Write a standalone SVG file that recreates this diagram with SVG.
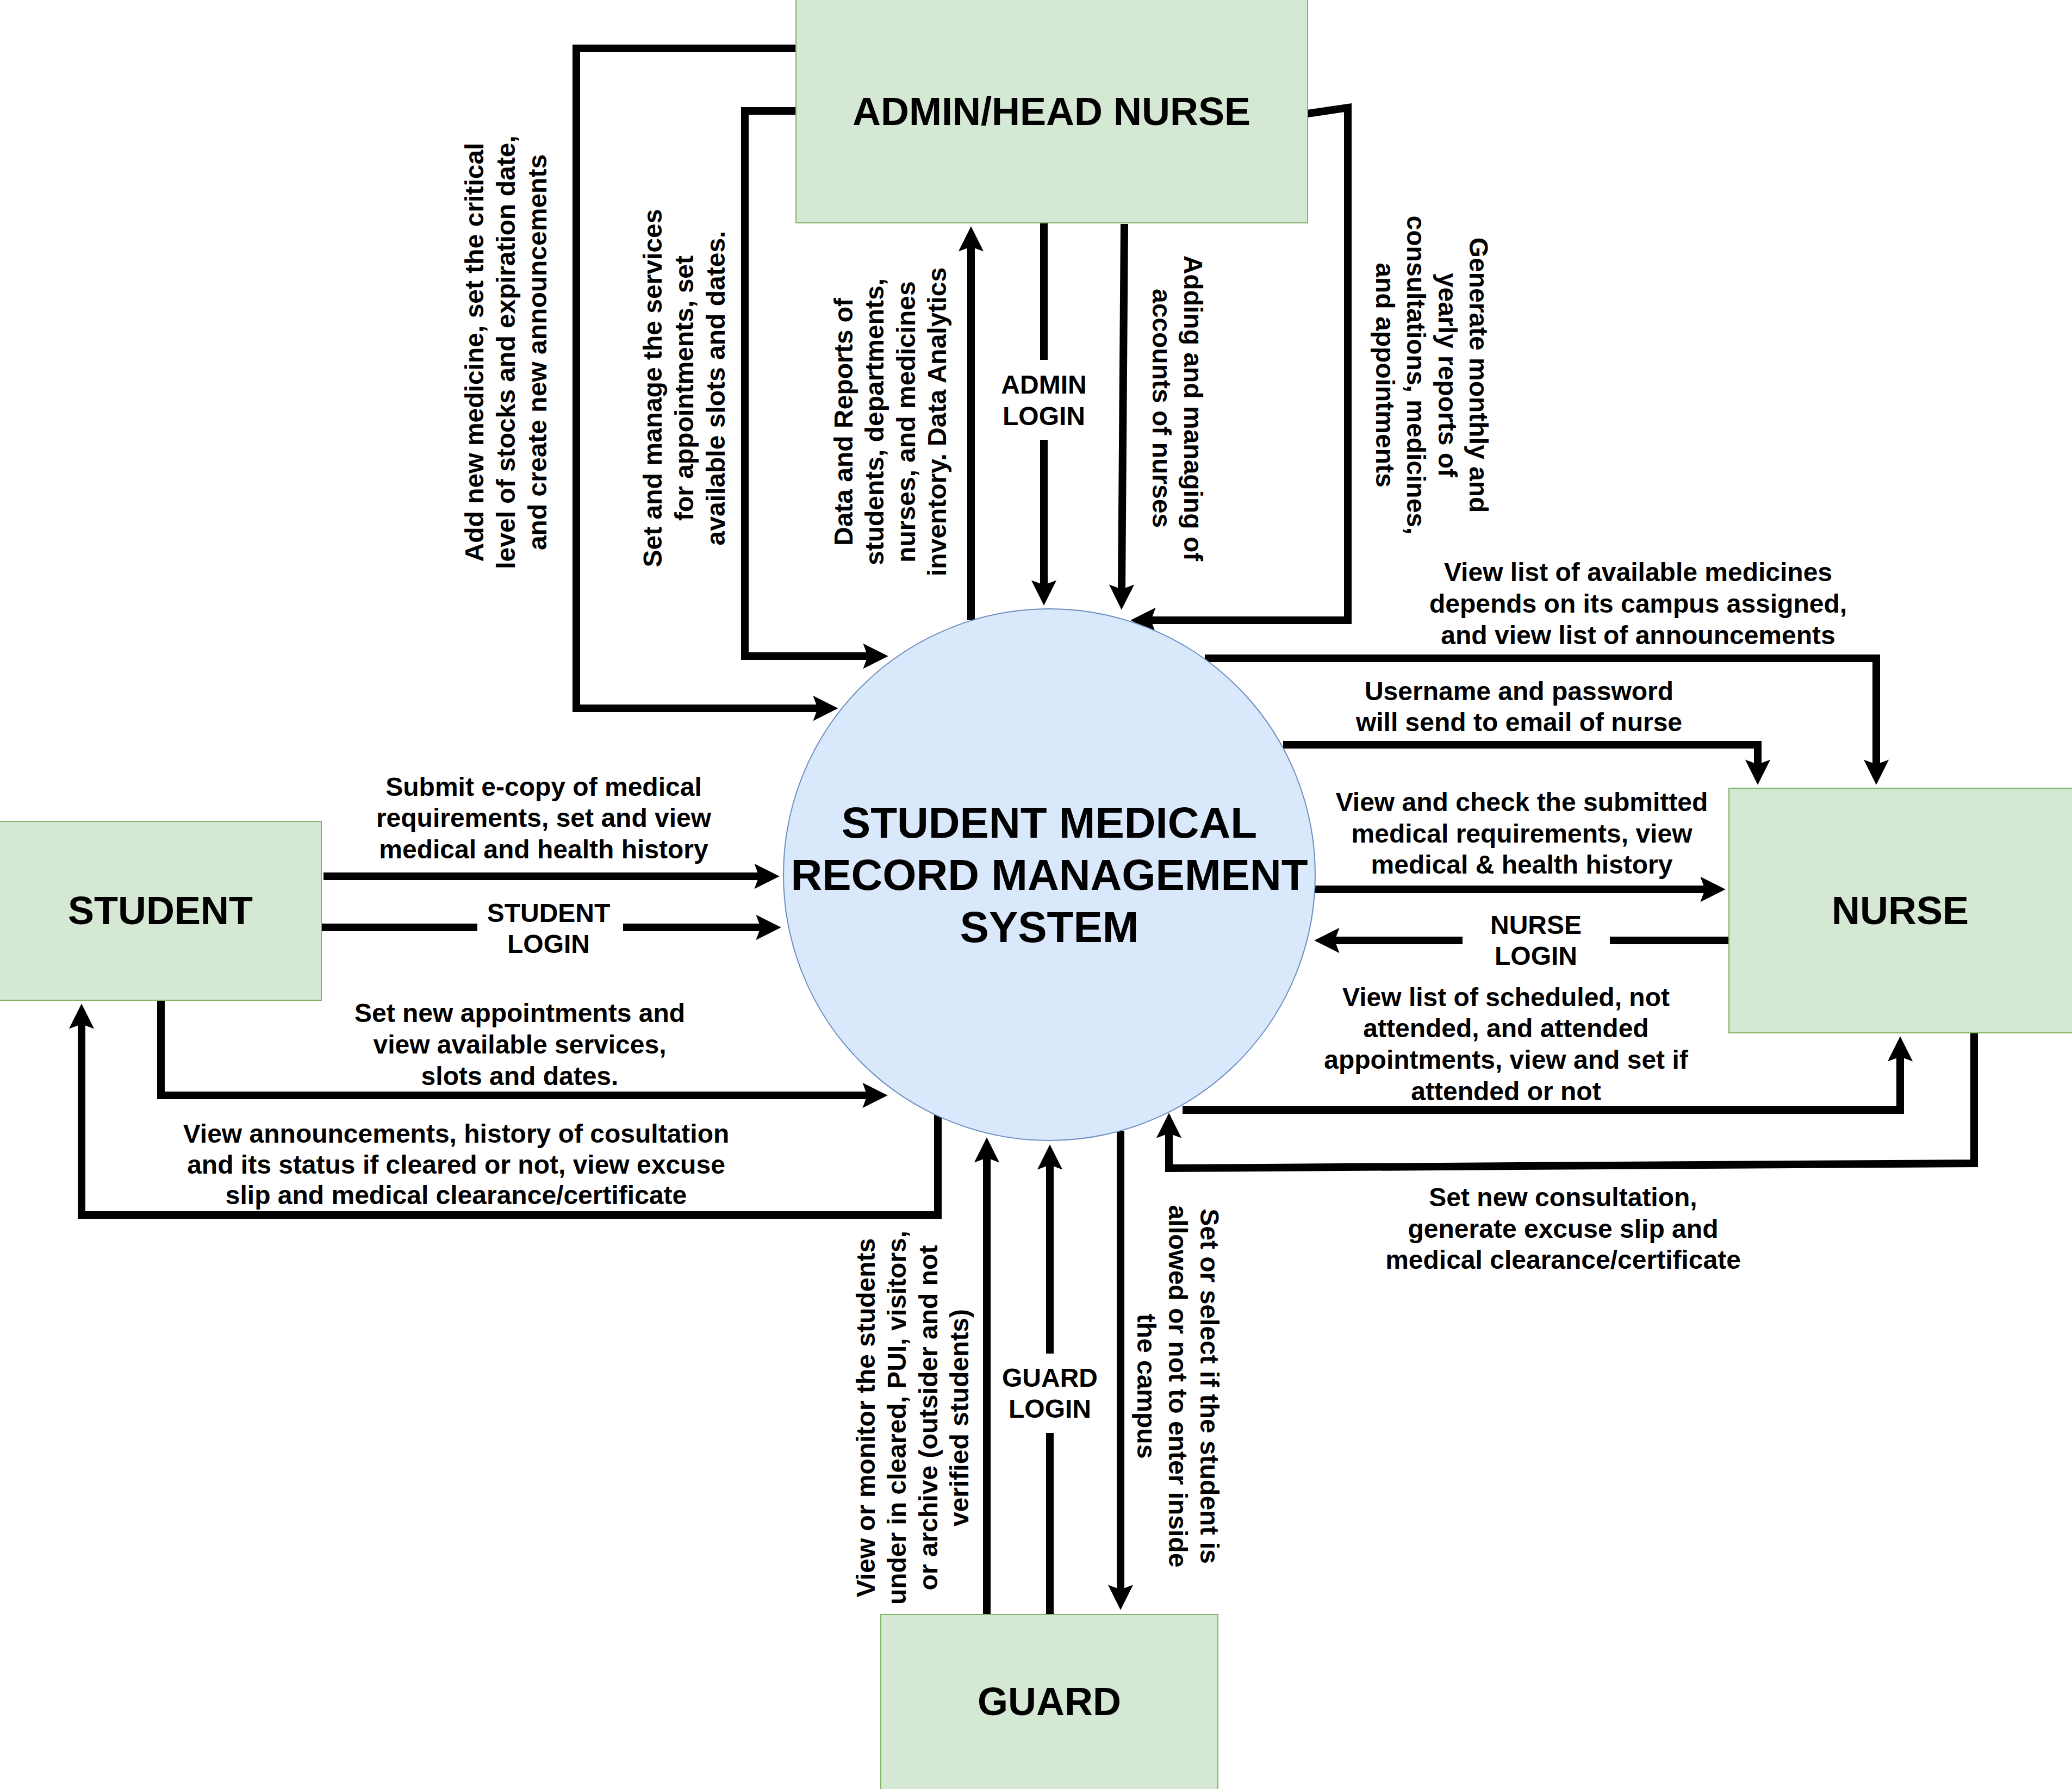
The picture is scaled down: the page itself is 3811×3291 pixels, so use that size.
<svg xmlns="http://www.w3.org/2000/svg" width="3811" height="3291" viewBox="0 0 3811 3291">
<style>
.ent{fill:#d5e8d4;stroke:#82b366;stroke-width:2}
.proc{fill:#dae8fc;stroke:#6c8ebf;stroke-width:2}
.t{font-family:"Liberation Sans",Arial,Helvetica,sans-serif;font-weight:bold;fill:#000;text-anchor:middle}
.lbl{font-size:48px}
.big{font-size:72px}
.ctr{font-size:80px}
.e{fill:none;stroke:#000;stroke-width:14;stroke-linejoin:miter;stroke-linecap:butt}
.a{marker-end:url(#arr)}
</style>
<defs>
<marker id="arr" markerUnits="userSpaceOnUse" markerWidth="60" markerHeight="60" refX="0" refY="0" orient="auto" overflow="visible" viewBox="-20 -30 70 60">
<path d="M44 0 L-10 -27 L0 0 L-10 27 Z" fill="#000"/>
</marker>
</defs>
<rect width="3811" height="3291" fill="#fff"/>

<g id="connectors">
<g id="c-add-medicine">
<path class="e a" d="M1464 89 H1060 V1303 H1504"/>
<text class="t lbl" transform="translate(930,648) rotate(-90)"><tspan x="0" y="-40.6">Add new medicine, set the critical</tspan><tspan x="0" y="17">level of stocks and expiration date,</tspan><tspan x="0" y="74.6">and create new announcements</tspan></text>
</g>
<g id="c-set-services">
<path class="e a" d="M1464 204 H1370 V1207 H1596"/>
<text class="t lbl" transform="translate(1258,714) rotate(-90)"><tspan x="0" y="-40.6">Set and manage the services</tspan><tspan x="0" y="17">for appointments, set</tspan><tspan x="0" y="74.6">available slots and dates.</tspan></text>
</g>
<g id="c-data-reports">
<path class="e a" d="M1786 1141 V454"/>
<text class="t lbl" transform="translate(1637,776) rotate(-90)"><tspan x="0" y="-69.4">Data and Reports of</tspan><tspan x="0" y="-11.8">students, departments,</tspan><tspan x="0" y="45.8">nurses, and medicines</tspan><tspan x="0" y="103.4">inventory. Data Analytics</tspan></text>
</g>
<g id="c-admin-login">
<path class="e" d="M1920 410 V662"/>
<path class="e a" d="M1920 809 V1076"/>
<text class="t lbl"><tspan x="1920" y="724">ADMIN</tspan><tspan x="1920" y="782">LOGIN</tspan></text>
</g>
<g id="c-nurse-accounts">
<path class="e a" d="M2068 412 L2063 1084"/>
<text class="t lbl" transform="translate(2166,751) rotate(90)"><tspan x="0" y="-11.8">Adding and managing of</tspan><tspan x="0" y="45.8">accounts of nurses</tspan></text>
</g>
<g id="c-generate-reports">
<path class="e a" d="M2405 209 L2479 198 V1141 H2117"/>
<text class="t lbl" transform="translate(2634,690) rotate(90)"><tspan x="0" y="-69.4">Generate monthly and</tspan><tspan x="0" y="-11.8">yearly reports of</tspan><tspan x="0" y="45.8">consultations, medicines,</tspan><tspan x="0" y="103.4">and appointments</tspan></text>
</g>
<g id="c-view-medicines">
<path class="e a" d="M2216 1211 H3451 V1406"/>
<text class="t lbl"><tspan x="3013" y="1069">View list of available medicines</tspan><tspan x="3013" y="1127">depends on its campus assigned,</tspan><tspan x="3013" y="1185">and view list of announcements</tspan></text>
</g>
<g id="c-username">
<path class="e a" d="M2360 1370 H3233 V1406"/>
<text class="t lbl"><tspan x="2794" y="1288">Username and password</tspan><tspan x="2794" y="1345">will send to email of nurse</tspan></text>
</g>
<g id="c-view-check">
<path class="e a" d="M2418 1636 H3136"/>
<text class="t lbl"><tspan x="2799" y="1492">View and check the submitted</tspan><tspan x="2799" y="1550">medical requirements, view</tspan><tspan x="2799" y="1607">medical &amp; health history</tspan></text>
</g>
<g id="c-nurse-login">
<path class="e" d="M3180 1730 H2961"/>
<path class="e a" d="M2690 1730 H2455"/>
<text class="t lbl"><tspan x="2825" y="1718">NURSE</tspan><tspan x="2825" y="1775">LOGIN</tspan></text>
</g>
<g id="c-scheduled">
<path class="e a" d="M2175 2042 H3495 V1944"/>
<text class="t lbl"><tspan x="2770" y="1851">View list of scheduled, not</tspan><tspan x="2770" y="1908">attended, and attended</tspan><tspan x="2770" y="1966">appointments, view and set if</tspan><tspan x="2770" y="2024">attended or not</tspan></text>
</g>
<g id="c-consultation">
<path class="e a" d="M3631 1900 V2140 L2150 2149 V2085"/>
<text class="t lbl"><tspan x="2875" y="2219">Set new consultation,</tspan><tspan x="2875" y="2277">generate excuse slip and</tspan><tspan x="2875" y="2334">medical clearance/certificate</tspan></text>
</g>
<g id="c-guard-monitor">
<path class="e a" d="M1815 2970 V2130"/>
<text class="t lbl" transform="translate(1678,2608) rotate(-90)"><tspan x="0" y="-69.4">View or monitor the students</tspan><tspan x="0" y="-11.8">under in cleared, PUI, visitors,</tspan><tspan x="0" y="45.8">or archive (outsider and not</tspan><tspan x="0" y="103.4">verified students)</tspan></text>
</g>
<g id="c-guard-login">
<path class="e" d="M1931 2970 V2636"/>
<path class="e a" d="M1931 2490 V2143"/>
<text class="t lbl"><tspan x="1931" y="2551">GUARD</tspan><tspan x="1931" y="2608">LOGIN</tspan></text>
</g>
<g id="c-guard-select">
<path class="e a" d="M2061 2081 V2924"/>
<text class="t lbl" transform="translate(2167,2550) rotate(90)"><tspan x="0" y="-40.6">Set or select if the student is</tspan><tspan x="0" y="17">allowed or not to enter inside</tspan><tspan x="0" y="74.6">the campus</tspan></text>
</g>
<g id="c-view-announcements">
<path class="e a" d="M1725 2051 V2235 H150 V1884"/>
<text class="t lbl"><tspan x="839" y="2102">View announcements, history of cosultation</tspan><tspan x="839" y="2159">and its status if cleared or not, view excuse</tspan><tspan x="839" y="2215">slip and medical clearance/certificate</tspan></text>
</g>
<g id="c-set-appointments">
<path class="e a" d="M296 1840 V2015 H1595"/>
<text class="t lbl"><tspan x="956" y="1880">Set new appointments and</tspan><tspan x="956" y="1938">view available services,</tspan><tspan x="956" y="1996">slots and dates.</tspan></text>
</g>
<g id="c-submit">
<path class="e a" d="M595 1612 H1396"/>
<text class="t lbl"><tspan x="1000" y="1464">Submit e-copy of medical</tspan><tspan x="1000" y="1521">requirements, set and view</tspan><tspan x="1000" y="1579">medical and health history</tspan></text>
</g>
<g id="c-student-login">
<path class="e" d="M591 1706 H878"/>
<path class="e a" d="M1146 1706 H1399"/>
<text class="t lbl"><tspan x="1009" y="1696">STUDENT</tspan><tspan x="1009" y="1753">LOGIN</tspan></text>
</g>
</g>

<g id="node-system">
<circle class="proc" cx="1930" cy="1609" r="489"/>
<text class="t ctr"><tspan x="1930" y="1541">STUDENT MEDICAL</tspan><tspan x="1930" y="1637">RECORD MANAGEMENT</tspan><tspan x="1930" y="1733">SYSTEM</tspan></text>
</g>
<g id="node-admin">
<rect class="ent" x="1464" y="-1" width="941" height="411"/>
<text class="t big" x="1934" y="230">ADMIN/HEAD NURSE</text>
</g>
<g id="node-student">
<rect class="ent" x="-1" y="1511" width="592" height="329"/>
<text class="t big" x="295" y="1700">STUDENT</text>
</g>
<g id="node-nurse">
<rect class="ent" x="3180" y="1450" width="640" height="450"/>
<text class="t big" x="3495" y="1700">NURSE</text>
</g>
<g id="node-guard">
<rect class="ent" x="1620" y="2970" width="620" height="330"/>
<text class="t big" x="1930" y="3155">GUARD</text>
</g>
</svg>
